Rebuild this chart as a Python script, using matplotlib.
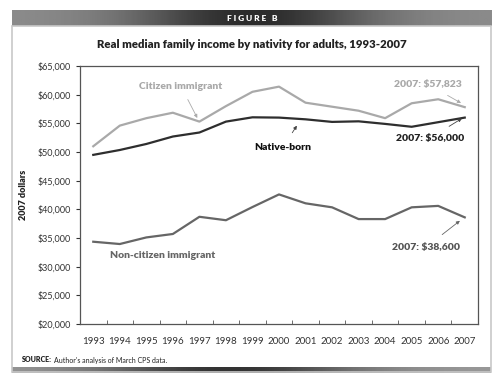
import matplotlib.pyplot as plt
import matplotlib.patches as mpatches
import numpy as np

plt.rcParams['font.family'] = ['Lato', 'DejaVu Sans']

# datos
years = list(range(1993, 2008))
native_born = [49500, 50350, 51400, 52700, 53400, 55300, 56050, 56000, 55700,
               55250, 55350, 54900, 54400, 55200, 56000]
citizen = [51000, 54600, 55900, 56850, 55300, 58000, 60500, 61400, 58600,
           57900, 57200, 55900, 58500, 59200, 57823]
non_citizen = [34350, 33950, 35100, 35700, 38700, 38100, 40400, 42600, 41050,
               40350, 38300, 38300, 40350, 40600, 38600]

fig = plt.figure(figsize=(5, 3.81), dpi=100)

# marco gris alrededor de la figura
W, H = 500, 381
def fx(px): return px / W
def fy(py): return 1 - py / H
frame = mpatches.Rectangle((fx(12), fy(372)), fx(491) - fx(12), fy(26) - fy(372),
                           transform=fig.transFigure, fill=False,
                           edgecolor='#c8c8c8', linewidth=1.2)
fig.add_artist(frame)

# franja superior "FIGURE B" con degradado
band = fig.add_axes([fx(12), fy(26), fx(492) - fx(12), fy(10) - fy(26)])
grad = 0.55 - 0.38 * np.exp(-((np.linspace(-1, 1, 200)) ** 2) / 0.25)
band.imshow(grad[np.newaxis, :], aspect='auto', cmap='gray', vmin=0, vmax=1)
band.axis('off')
band.text(0.5, 0.45, 'F I G U R E   B', color='white', fontsize=6, fontweight='heavy',
          ha='center', va='center', transform=band.transAxes)

# franja inferior
bot = fig.add_axes([fx(12), fy(373), fx(491) - fx(12), fy(367) - fy(373)])
grad2 = 0.6 - 0.4 * np.exp(-((np.linspace(-1, 1, 200) + 0.1) ** 2) / 0.3)
bot.imshow(grad2[np.newaxis, :], aspect='auto', cmap='gray', vmin=0, vmax=1)
bot.axis('off')

fig.text(fx(252), fy(45), 'Real median family income by nativity for adults, 1993-2007',
         ha='center', va='center', fontsize=8.2, fontweight='heavy', color='#222222')

ax = fig.add_axes([fx(80), fy(324), fx(478) - fx(80), fy(66) - fy(324)])
ax.plot(years, citizen, color='#a9a9a9', linewidth=1.6)
ax.plot(years, native_born, color='#2e2e2e', linewidth=1.6)
ax.plot(years, non_citizen, color='#666666', linewidth=1.6)

ax.set_xlim(1992.5, 2007.5)
ax.set_ylim(20000, 65000)
ax.set_xticks(years)
ax.set_xticklabels([str(y) for y in years])
ax.set_xticks(np.arange(1992.5, 2008, 1), minor=True)
ax.tick_params(axis='x', which='major', length=0, pad=9, labelsize=7, colors='#333333')
ax.tick_params(axis='x', which='minor', direction='in', length=3, color='#555555')
ax.set_yticks(range(20000, 65001, 5000))
ax.set_yticklabels(['${:,}'.format(v) for v in range(20000, 65001, 5000)])
ax.tick_params(axis='y', direction='out', length=3, labelsize=6.5, colors='#333333')
for s in ax.spines.values():
    s.set_color('#555555')
    s.set_linewidth(0.9)
ax.set_ylabel('2007 dollars', fontsize=6.5, fontweight='heavy', color='#222222')
ax.yaxis.set_label_coords(-0.13, 0.5)

arrow = dict(arrowstyle='-|>', color='#888888', lw=0.6, mutation_scale=5)
ax.annotate('Citizen immigrant', xy=(1996.97, 55500), xytext=(1996.3, 61500),
            ha='center', va='center', fontsize=7.5, fontweight='heavy', color='#a9a9a9',
            arrowprops=dict(arrow, color='#aaaaaa', shrinkA=5))
ax.annotate('Native-born', xy=(2000.73, 55000), xytext=(2000.15, 50870),
            ha='center', va='center', fontsize=7.5, fontweight='heavy', color='#111111',
            arrowprops=dict(arrow, color='#444444', shrinkA=6))
ax.annotate('2007: $57,823', xy=(2006.95, 58300), xytext=(2005.6, 61860),
            ha='center', va='center', fontsize=7.5, fontweight='heavy', color='#a9a9a9',
            arrowprops=dict(arrow, color='#aaaaaa', shrinkA=6))
ax.annotate('2007: $56,000', xy=(2006.98, 56100), xytext=(2005.7, 52440),
            ha='center', va='center', fontsize=7.5, fontweight='heavy', color='#222222',
            arrowprops=dict(arrow, color='#444444', shrinkA=6))
ax.annotate('2007: $38,600', xy=(2006.9, 38300), xytext=(2005.55, 33430),
            ha='center', va='center', fontsize=7.5, fontweight='heavy', color='#555555',
            arrowprops=dict(arrow, color='#666666', shrinkA=6))
ax.text(1995.63, 32030, 'Non-citizen immigrant', ha='center', va='center',
        fontsize=7.5, fontweight='heavy', color='#666666')

fig.text(fx(22), fy(360), 'SOURCE:', fontsize=5, fontweight='heavy',
         color='#222222', va='center')
fig.text(fx(54), fy(360), "Author's analysis of March CPS data.", fontsize=5,
         color='#222222', va='center')

fig.savefig('out.png', dpi=100)
